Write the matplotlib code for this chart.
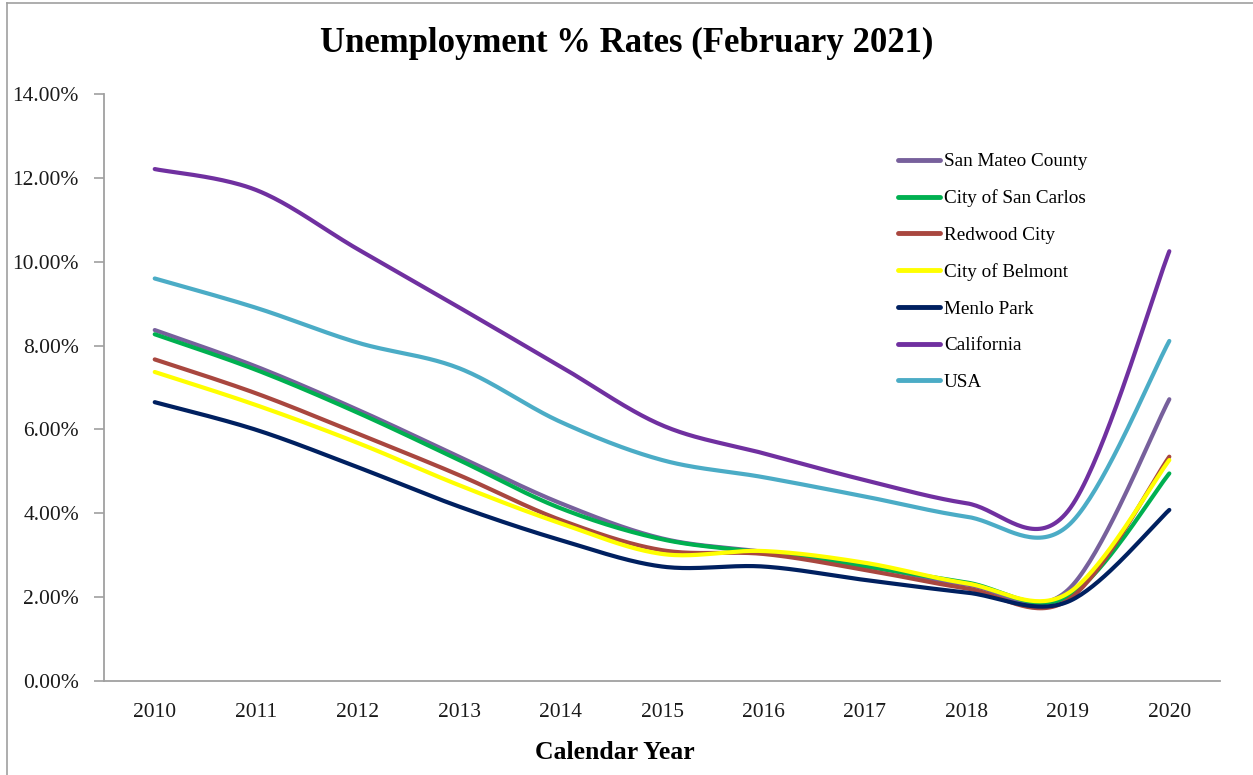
import numpy as np
import matplotlib.pyplot as plt
from matplotlib.lines import Line2D
from matplotlib.ticker import FuncFormatter

# Annual unemployment rates (%)
years = ["2010", "2011", "2012", "2013", "2014", "2015",
         "2016", "2017", "2018", "2019", "2020"]

san_mateo = [8.37, 7.50, 6.47, 5.35, 4.24, 3.40, 3.08, 2.75, 2.30, 2.17, 6.72]
san_carlos = [8.27, 7.42, 6.40, 5.27, 4.12, 3.38, 3.06, 2.73, 2.35, 2.01, 4.95]
redwood_city = [7.67, 6.86, 5.90, 4.91, 3.84, 3.12, 3.03, 2.65, 2.21, 1.93, 5.35]
belmont = [7.37, 6.58, 5.68, 4.67, 3.76, 3.03, 3.10, 2.82, 2.33, 2.09, 5.27]
menlo_park = [6.65, 5.99, 5.10, 4.16, 3.36, 2.73, 2.73, 2.41, 2.11, 1.89, 4.08]
california = [12.21, 11.71, 10.30, 8.91, 7.50, 6.10, 5.43, 4.79, 4.24, 4.05, 10.25]
usa = [9.60, 8.90, 8.07, 7.46, 6.18, 5.27, 4.86, 4.40, 3.92, 3.70, 8.11]

series = [
    ("San Mateo County", san_mateo, "#77609c"),
    ("City of San Carlos", san_carlos, "#00b050"),
    ("Redwood City", redwood_city, "#a9473f"),
    ("City of Belmont", belmont, "#ffff00"),
    ("Menlo Park", menlo_park, "#002060"),
    ("California", california, "#7030a0"),
    ("USA", usa, "#4bacc6"),
]

SERIF = ["Liberation Serif", "DejaVu Serif"]
plt.rcParams["font.family"] = SERIF


# Catmull-Rom smoothing through the data points (like a "smoothed line" chart)
def smooth(x, y, steps=40):
    x = np.asarray(x, float)
    y = np.asarray(y, float)
    px = np.concatenate([[x[0]], x, [x[-1]]])
    py = np.concatenate([[y[0]], y, [y[-1]]])
    xs, ys = [], []
    for i in range(1, len(px) - 2):
        t = np.linspace(0, 1, steps, endpoint=False)
        mx0 = (px[i + 1] - px[i - 1]) / 2
        mx1 = (px[i + 2] - px[i]) / 2
        my0 = (py[i + 1] - py[i - 1]) / 2
        my1 = (py[i + 2] - py[i]) / 2
        h00 = 2 * t**3 - 3 * t**2 + 1
        h10 = t**3 - 2 * t**2 + t
        h01 = -2 * t**3 + 3 * t**2
        h11 = t**3 - t**2
        xs.append(h00 * px[i] + h10 * mx0 + h01 * px[i + 1] + h11 * mx1)
        ys.append(h00 * py[i] + h10 * my0 + h01 * py[i + 1] + h11 * my1)
    xs.append([x[-1]])
    ys.append([y[-1]])
    return np.concatenate(xs), np.concatenate(ys)


fig = plt.figure(figsize=(12.53, 7.75), dpi=100)
ax = fig.add_axes([0.083, 0.1213, 0.8907, 0.7574])

pos = np.arange(len(years))
handles = []
for name, vals, color in series:
    sx, sy = smooth(pos, vals)
    ax.plot(sx, sy, color=color, lw=3, solid_capstyle="round")
    handles.append(Line2D([], [], color=color, lw=3.5, solid_capstyle="round", label=name))

ax.set_xlim(-0.5, len(years) - 0.5)
ax.set_ylim(0, 14)
ax.set_yticks(np.arange(0, 15, 2))
ax.yaxis.set_major_formatter(FuncFormatter(lambda v, _: f"{v:.2f}%"))
ax.set_xticks(pos)
ax.set_xticklabels(years)

for side in ("top", "right"):
    ax.spines[side].set_visible(False)
for side in ("left", "bottom"):
    ax.spines[side].set_color("#a0a0a0")
    ax.spines[side].set_linewidth(1.3)

ax.tick_params(axis="y", direction="out", length=7, width=1.2, color="#a0a0a0",
               pad=11, labelsize=15.5, labelcolor="#1a1a1a")
ax.tick_params(axis="x", length=0, pad=15.5, labelsize=15.5, labelcolor="#1a1a1a")

fig.text(0.5, 0.944, "Unemployment % Rates (February 2021)", ha="center", va="center",
         fontsize=25, fontweight="bold")
fig.text(0.491, 0.029, "Calendar Year", ha="center", va="center",
         fontsize=18.5, fontweight="bold")

fig.legend(handles=handles, loc="upper left", bbox_to_anchor=(898 / 1253, 1 - 153 / 775),
           frameon=False, fontsize=13.8, handlelength=2.2, handletextpad=0.2,
           labelspacing=1.0, borderpad=0, borderaxespad=0)

# outer chart border
fig.add_artist(Line2D([0.0055, 0.0055], [0, 0.996], transform=fig.transFigure,
                      color="#a0a0a0", lw=1.2))
fig.add_artist(Line2D([0.0055, 1], [0.996, 0.996], transform=fig.transFigure,
                      color="#a0a0a0", lw=1.2))

fig.savefig("out.png", dpi=100)
